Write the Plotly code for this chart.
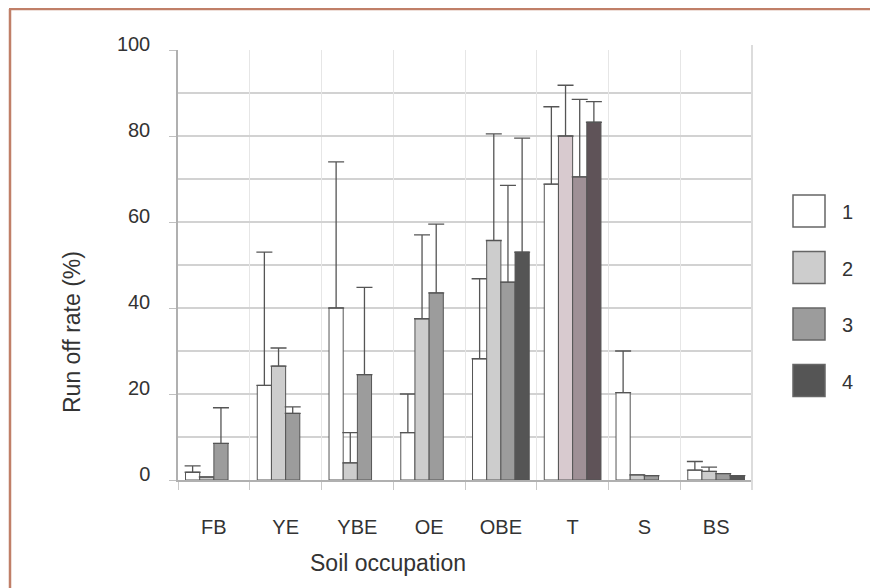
import numpy as np
import plotly.graph_objects as go

categories = ["FB", "YE", "YBE", "OE", "OBE", "T", "S", "BS"]
series_names = ["1", "2", "3", "4"]

# bar heights (run off rate %)
s1 = [1.8, 22.0, 40.0, 11.0, 28.2, 68.8, 20.3, 2.3]
s2 = [0.7, 26.5, 4.0, 37.5, 55.7, 80.0, 1.2, 2.0]
s3 = [8.5, 15.5, 24.5, 43.5, 46.0, 70.5, 1.0, 1.5]
s4 = [None, None, None, None, 53.0, 83.2, None, 1.0]

# top of the error bars (nan = no error bar drawn)
nan = np.nan
t1 = [3.3, 53.0, 74.0, 20.0, 46.8, 86.8, 30.0, 4.3]
t2 = [nan, 30.7, 11.0, 57.0, 80.5, 91.8, nan, 3.0]
t3 = [16.8, 17.0, 44.8, 59.5, 68.5, 88.5, nan, nan]
t4 = [nan, nan, nan, nan, 79.5, 88.0, nan, nan]

# fill colours per series (T group is tinted mauve in the original)
c1 = ["#ffffff"] * 8
c2 = ["#cdcdcd"] * 5 + ["#d8cacf"] + ["#cdcdcd"] * 2
c3 = ["#9c9c9c"] * 5 + ["#9f9096"] + ["#9c9c9c"] * 2
c4 = ["#555555"] * 5 + ["#5f5358"] + ["#555555"] * 2
legend_colors = ["#ffffff", "#cdcdcd", "#9c9c9c", "#555555"]

OFF = 8                      # page body margin
W, H = 870, 580              # figure size
PL, PR, PT, PB = 178, 752, 50, 480   # plot area in page pixels
L, R, T, B = PL - OFF, PR - OFF, PT - OFF, PB - OFF


def px(x):
    return (x - PL) / (PR - PL)


def py(y):
    return (PB - y) / (PB - PT)


fig = go.Figure()
for name, vals, tops, cols in zip(series_names, [s1, s2, s3, s4],
                                  [t1, t2, t3, t4], [c1, c2, c3, c4]):
    v = np.array([np.nan if a is None else a for a in vals], dtype=float)
    plus = np.array(tops, dtype=float) - v
    fig.add_trace(go.Bar(
        name=name, x=categories, y=v,
        marker=dict(color=cols, line=dict(color="#555555", width=1)),
        error_y=dict(type="data", symmetric=False, array=plus,
                     arrayminus=np.zeros(len(v)), color="#555555",
                     thickness=1.3, width=8),
        showlegend=False,
    ))

FRAME = "#c07f68"
shapes = [
    # outer frame (top and left)
    dict(type="line", xref="paper", yref="paper", x0=px(9), x1=px(890),
         y0=py(9), y1=py(9), line=dict(color=FRAME, width=2.5)),
    dict(type="line", xref="paper", yref="paper", x0=px(10), x1=px(10),
         y0=py(9), y1=py(600), line=dict(color=FRAME, width=2.5)),
    # right border of plot area
    dict(type="line", xref="paper", yref="paper", x0=1, x1=1,
         y0=py(490), y1=py(45), line=dict(color="#dcdcdc", width=2)),
]
TXT = "#333333"
annotations = [
    dict(text="Run off rate (%)", xref="paper", yref="paper", x=px(72),
         y=py(332), textangle=-90, showarrow=False,
         xanchor="center", yanchor="middle",
         font=dict(size=23, color=TXT)),
    dict(text="Soil occupation", xref="paper", yref="paper", x=px(388),
         y=py(563), showarrow=False, xanchor="center", yanchor="middle",
         font=dict(size=23, color=TXT)),
]
# manual legend with large swatches
for i, (name, col) in enumerate(zip(series_names, legend_colors)):
    y0 = 195 + i * 56.5
    shapes.append(dict(type="rect", xref="paper", yref="paper",
                       x0=px(793), x1=px(825), y0=py(y0), y1=py(y0 + 32),
                       fillcolor=col, line=dict(color="#666666", width=1.5)))
    annotations.append(dict(text=name, xref="paper", yref="paper",
                            x=px(847), y=py(y0 + 17), showarrow=False,
                            xanchor="center", yanchor="middle",
                            font=dict(size=20, color=TXT)))

fig.update_layout(
    width=W, height=H,
    margin=dict(l=L, r=W - R, t=T, b=H - B, pad=0),
    paper_bgcolor="white", plot_bgcolor="white",
    barmode="group", bargap=0.21, bargroupgap=0,
    font=dict(family="Liberation Sans, Arial, sans-serif", color=TXT),
    shapes=shapes, annotations=annotations,
    showlegend=False,
)
fig.update_yaxes(
    range=[0, 100], dtick=20, tick0=0,
    showgrid=True, gridcolor="#d2d2d2", gridwidth=2,
    minor=dict(dtick=10, showgrid=True, gridcolor="#d2d2d2", gridwidth=2,
               ticks=""),
    showline=True, linecolor="#b0b0b0", linewidth=1.5,
    ticks="outside", ticklen=7, tickcolor="#c0c0c0",
    ticklabelstandoff=15, ticklabelshift=-6,
    tickfont=dict(size=20, color=TXT),
    zeroline=False,
)
fig.update_xaxes(
    tickson="boundaries", showgrid=True, gridcolor="#e6e6e6", gridwidth=1,
    showline=True, linecolor="#b0b0b0", linewidth=1.5,
    ticks="outside", ticklen=8, tickcolor="#c8c8c8",
    ticklabelstandoff=28,
    tickfont=dict(size=20, color=TXT),
)

fig.write_html("out.html")
